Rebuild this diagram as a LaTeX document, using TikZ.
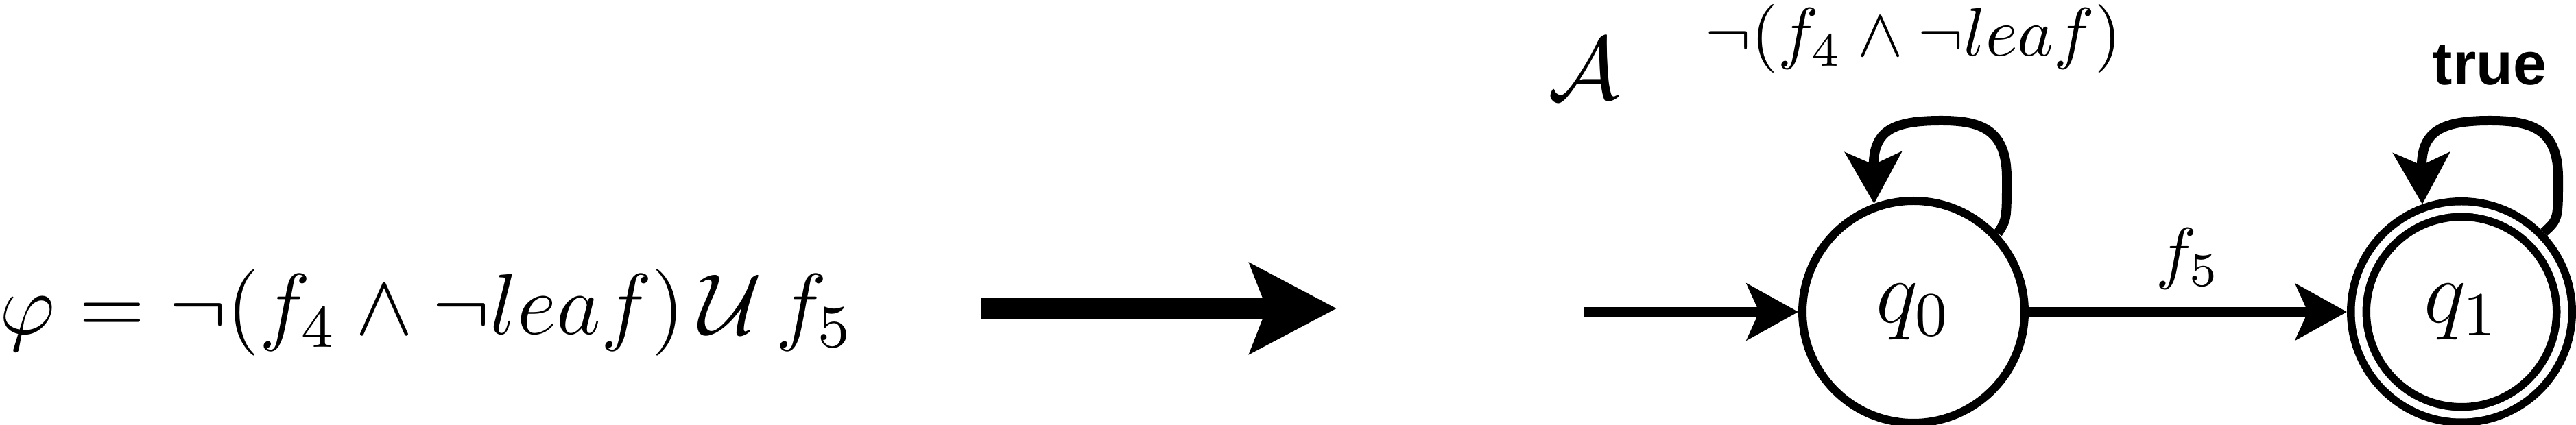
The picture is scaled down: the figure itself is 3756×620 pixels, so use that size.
\RequirePackage{fix-cm}
\documentclass[tikz,border=0pt]{standalone}
\usepackage{fontspec}
\newfontfamily\truefont{Liberation Sans}
\usetikzlibrary{arrows.meta,calc}
\begin{document}
\begin{tikzpicture}[x=0.1pt,y=-0.1pt,
  state/.style={circle, draw, line width=1.2pt, minimum size=32.4pt, inner sep=0pt, font=\fontsize{13}{15}\selectfont},
  edge/.style={line width=1.4pt, -{Stealth[length=7.5pt,width=8.2pt,inset=1.8pt]}},
  lbl/.style={font=\fontsize{10}{12}\selectfont, inner sep=0pt},
  bigarrow/.style={line width=3.2pt, -{Stealth[length=12.6pt,width=13pt,inset=2.4pt]}}]
\useasboundingbox (0,0) rectangle (3756,620);
% formula
\node[anchor=base, inner sep=0pt, font=\fontsize{12.6}{15}\selectfont] (phi) at (622,488) {$\varphi = \neg(f_4 \wedge \neg leaf)\,\mathcal{U}\,f_5$};
% big arrow
\coordinate (bs) at (1430,450);
\coordinate (be) at (1949,450);
\draw[bigarrow] (bs) -- (be);
% automaton name
\node[anchor=base, inner sep=0pt, font=\fontsize{13}{15}\selectfont] (A) at (2309,145) {$\mathcal{A}$};
% states
\node[state] (q0) at (2790,455) {$q_0$};
\node[state, double, double distance=1.1pt, line width=1.15pt, minimum size=30pt, outer sep=1.7pt] (q1) at (3589,455) {$q_1$};
% initial arrow
\coordinate (init) at (2309,455);
\draw[edge] (init) -- (q0);
% transition
\draw[edge] (q0) -- node[lbl, anchor=base, yshift=5.2pt] (f5) {$f_5$} (q1);
% self loops
\draw[edge] (q0.43) .. controls ($(q0.center)+(136,-135)$) .. ($(q0.center)+(136,-195)$)
  .. controls ($(q0.center)+(136,-265)$) and ($(q0.center)+(100,-279)$) .. ($(q0.center)+(41,-279)$)
  .. controls ($(q0.center)+(-30,-279)$) and ($(q0.center)+(-59,-265)$) .. (q0.110);
\draw[edge] (q1.44) .. controls ($(q1.center)+(141,-135)$) .. ($(q1.center)+(141,-195)$)
  .. controls ($(q1.center)+(141,-265)$) and ($(q1.center)+(105,-279)$) .. ($(q1.center)+(42,-279)$)
  .. controls ($(q1.center)+(-27,-279)$) and ($(q1.center)+(-59,-265)$) .. (q1.110);
% loop labels
\node[lbl, anchor=base] (l0) at (2790,82) {$\neg(f_4 \wedge \neg leaf)$};
\node[anchor=base, inner sep=0pt, font=\fontsize{8.8}{10}\selectfont\truefont\bfseries] (l1) at (3630,124) {true};
\end{tikzpicture}
\end{document}
